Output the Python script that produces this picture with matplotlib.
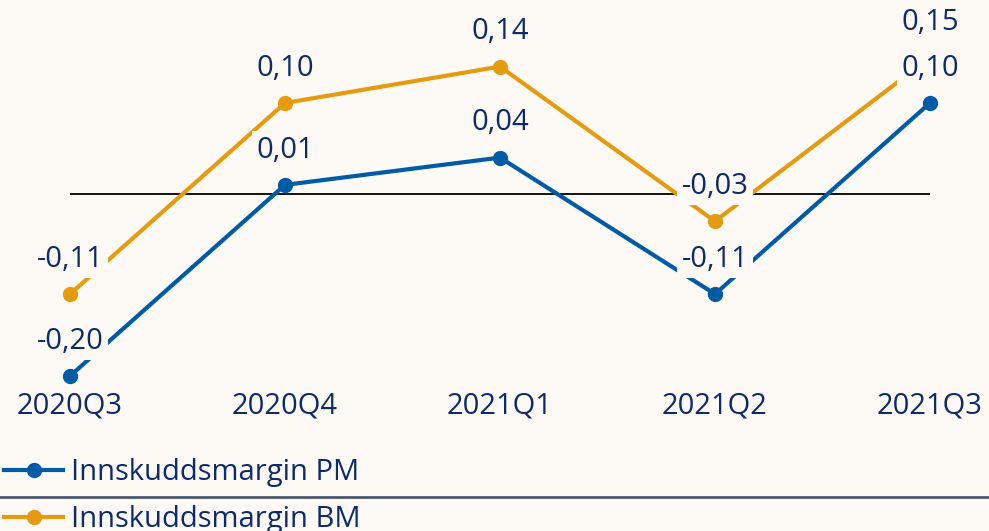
import matplotlib
matplotlib.use('Agg')
import matplotlib.pyplot as plt
from matplotlib.lines import Line2D

plt.rcParams['font.family'] = ['Open Sans', 'DejaVu Sans']

quarters = ['2020Q3', '2020Q4', '2021Q1', '2021Q2', '2021Q3']
margin_pm = [-0.20, 0.01, 0.04, -0.11, 0.10]
margin_bm = [-0.11, 0.10, 0.14, -0.03, 0.15]

bg = '#fdf9f5'
blue = '#005ba6'
orange = '#e49b0f'
navy = '#0d2b6b'

fig = plt.figure(figsize=(9.89, 5.31), dpi=100, facecolor=bg)
ax = fig.add_axes([70 / 989, 151 / 531, 860 / 989, 360 / 531])
ax.set_facecolor(bg)

x = range(len(quarters))
ax.axhline(0, color='black', lw=1.3, zorder=1)
ax.plot(x, margin_pm, color=blue, lw=3, marker='o', ms=10, clip_on=False, zorder=2,
        label='Innskuddsmargin PM')
ax.plot(x, margin_bm, color=orange, lw=3, marker='o', ms=10, clip_on=False, zorder=2,
        label='Innskuddsmargin BM')

for series in (margin_pm, margin_bm):
    for i, v in enumerate(series):
        ax.annotate(f'{v:.2f}'.replace('.', ','), (i, v), xytext=(0, 25),
                    textcoords='offset points', ha='center', va='center',
                    fontsize=21, color=navy, zorder=5, annotation_clip=False,
                    bbox=dict(boxstyle='square,pad=0.15', fc=bg, ec='none'))

ax.set_xlim(0, 4)
ax.set_ylim(-0.2044, 0.1912)
ax.set_xticks(list(x))
ax.set_xticklabels(quarters, fontsize=21, color=navy)
ax.set_yticks([])
ax.tick_params(axis='x', length=0, pad=8)
for s in ax.spines.values():
    s.set_visible(False)

fig.legend(loc='upper left', bbox_to_anchor=(0, 1 - 454 / 531), frameon=False,
           fontsize=21, labelcolor=navy, handlelength=2.0, handletextpad=0.3,
           labelspacing=0.62, borderaxespad=0, borderpad=0.15)
fig.add_artist(Line2D([0, 1], [1 - 497 / 531] * 2, color='#4b5a6e', lw=2))

fig.savefig('out.png', dpi=100, facecolor=bg)
